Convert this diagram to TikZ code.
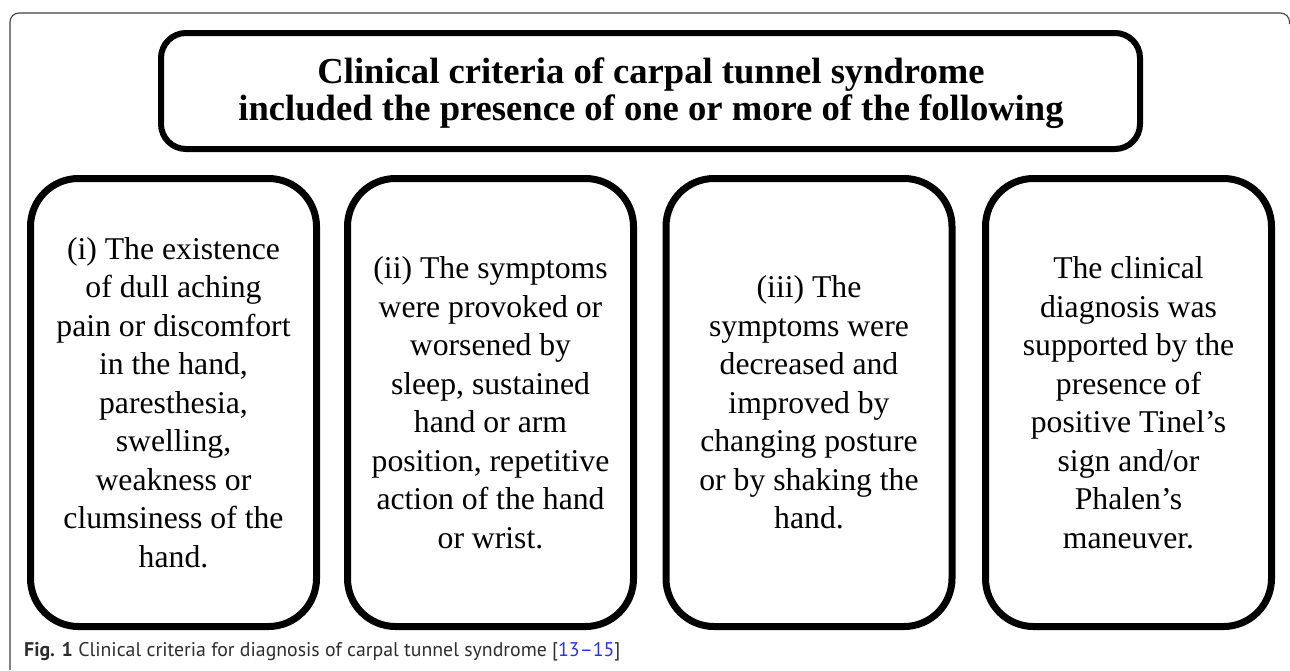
\documentclass[tikz,border=0pt]{standalone}
\usepackage{fontspec}
\setmainfont{Liberation Serif}
\newfontfamily\capfont{PT Sans}
\definecolor{citeblue}{RGB}{40,50,225}
\definecolor{capgray}{RGB}{45,45,45}
\begin{document}
\begin{tikzpicture}[x=1pt,y=-1pt,
  critbox/.style={draw=black,line width=7pt,rounded corners=48pt,
    minimum width=286pt,minimum height=448pt,align=center,inner sep=0pt,
    font=\fontsize{31.7}{38.5}\selectfont},
  titlebox/.style={draw=black,line width=6pt,rounded corners=25pt,
    minimum width=979pt,minimum height=116pt,align=center,inner sep=0pt,
    font=\bfseries\fontsize{36.6}{36.5}\selectfont},
  frameline/.style={draw=black!75,line width=1.1pt}]
\useasboundingbox (0,0) rectangle (1290,670);
% outer frame
\coordinate (fbl) at (10,670);
\coordinate (ftl) at (10,13);
\coordinate (ftr) at (1289.5,13);
\coordinate (fbr) at (1289.5,24);
\draw[frameline,rounded corners=9pt] (fbl) -- (ftl) -- (ftr) -- (fbr);
% title
\node[titlebox] (title) at (650.5,91) {};
\node[align=center,inner sep=0pt,font=\bfseries\fontsize{36.6}{36.5}\selectfont]
  (titletext) at (651,93)
  {Clinical criteria of carpal tunnel syndrome\\
   included the presence of one or more of the following};
% criteria boxes
\node[critbox] (c1) at (173.5,402.5)
  {(i) The existence\\ of dull aching\\ pain or discomfort\\ in the hand,\\
   paresthesia,\\ swelling,\\ weakness or\\ clumsiness of the\\ hand.};
\node[critbox] (c2) at (490.5,402.5)
  {(ii) The symptoms\\ were provoked or\\ worsened by\\ sleep, sustained\\
   hand or arm\\ position, repetitive\\ action of the hand\\ or wrist.};
\node[critbox] (c3) at (809,402.5)
  {(iii) The\\ symptoms were\\ decreased and\\ improved by\\
   changing posture\\ or by shaking the\\ hand.};
\node[critbox] (c4) at (1128.5,402.5)
  {The clinical\\ diagnosis was\\ supported by the\\ presence of\\
   positive Tinel’s\\ sign and/or\\ Phalen’s\\ maneuver.};
% caption
\node[anchor=base west,inner sep=0pt,text=capgray,
  font=\capfont\fontsize{19.8}{22}\selectfont] (cap) at (24,656)
  {\textbf{Fig. 1} Clinical criteria for diagnosis of carpal tunnel syndrome
   [\textcolor{citeblue}{13–15}]};
\end{tikzpicture}
\end{document}
